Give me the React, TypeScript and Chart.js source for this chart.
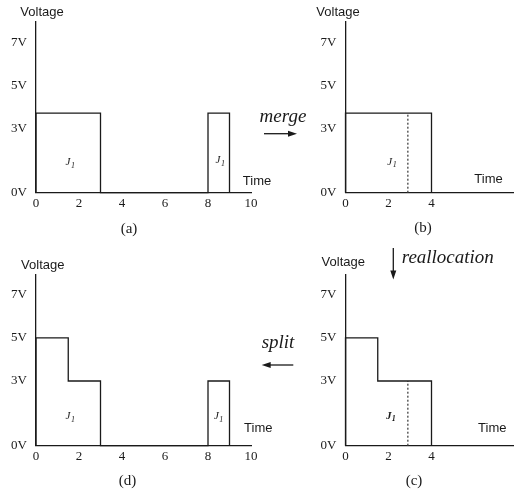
import React, { useEffect, useRef } from "react";
import { Chart, registerables } from "chart.js";
Chart.register(...registerables);

// ---------- data ----------
const voltTickValues = [0, 3, 5, 7];
const voltTickLabels = ["0V", "3V", "5V", "7V"];
const longTimeTicks = [0, 2, 4, 6, 8, 10];
const shortTimeTicks = [0, 2, 4];

// (a) before merge
const aStart = [0, 8];
const aEnd = [3, 9];
const aVolt = [3.7, 3.7];
// (b) merged
const bStart = [0];
const bEnd = [4];
const bVolt = [3.7];
const bDivide = 2.9;
// (c) after reallocation
const cStart = [0, 1.5];
const cEnd = [1.5, 4];
const cVolt = [5, 3];
const cDivide = 2.9;
// (d) after split
const dStart = [0, 1.5, 8];
const dEnd = [1.5, 3, 9];
const dVolt = [5, 3, 3];

const jobName = "J";
const jobSub = "1";

type Pt = { x: number; y: number };

function profile(starts: number[], ends: number[], volts: number[]): Pt[] {
  const pts: Pt[] = [];
  for (let i = 0; i < starts.length; i++) {
    const prevEnd = i > 0 ? ends[i - 1] : null;
    if (prevEnd !== starts[i]) pts.push({ x: starts[i], y: 0 });
    pts.push({ x: starts[i], y: volts[i] });
    pts.push({ x: ends[i], y: volts[i] });
    const nextStart = i < starts.length - 1 ? starts[i + 1] : null;
    if (nextStart !== ends[i]) pts.push({ x: ends[i], y: 0 });
  }
  return pts;
}

function levelAt(t: number, starts: number[], ends: number[], volts: number[]) {
  for (let i = 0; i < starts.length; i++) if (t >= starts[i] && t <= ends[i]) return volts[i];
  return 0;
}

const SERIF = '"Liberation Serif", "Times New Roman", serif';
const SANS = '"Liberation Sans", Arial, sans-serif';
const INK = "#1a1a1a";

type PanelCfg = {
  box: { left: number; top: number; width: number; height: number };
  area: { L: number; T: number; R: number; B: number };
  xMax: number;
  xTicks: number[];
  starts: number[];
  ends: number[];
  volts: number[];
  divide?: number;
  jobs: { x: number; y: number }[];
  boldJob?: boolean;
  voltage: { x: number; y: number };
  time: { x: number; y: number };
};

const panels: PanelCfg[] = [
  {
    box: { left: 0, top: 0, width: 300, height: 247 },
    area: { L: 36, T: 21.7, R: 251, B: 192.7 },
    xMax: 10,
    xTicks: longTimeTicks,
    starts: aStart, ends: aEnd, volts: aVolt,
    jobs: [{ x: 1.58, y: 1.4 }, { x: 8.56, y: 1.5 }],
    voltage: { x: 42, y: 12.5 },
    time: { x: 257, y: 181 },
  },
  {
    box: { left: 260, top: 0, width: 261, height: 247 },
    area: { L: 345.5, T: 21.7, R: 513.2, B: 192.7 },
    xMax: 7.8,
    xTicks: shortTimeTicks,
    starts: bStart, ends: bEnd, volts: bVolt,
    divide: bDivide,
    jobs: [{ x: 2.15, y: 1.44 }],
    voltage: { x: 338, y: 12.5 },
    time: { x: 488.5, y: 179 },
  },
  {
    box: { left: 260, top: 247, width: 261, height: 247 },
    area: { L: 345.5, T: 274.3, R: 513.2, B: 445.7 },
    xMax: 7.8,
    xTicks: shortTimeTicks,
    starts: cStart, ends: cEnd, volts: cVolt,
    divide: cDivide,
    jobs: [{ x: 2.1, y: 1.38 }],
    boldJob: true,
    voltage: { x: 343.3, y: 262 },
    time: { x: 492.3, y: 428.3 },
  },
  {
    box: { left: 0, top: 247, width: 300, height: 247 },
    area: { L: 36, T: 274.3, R: 251, B: 445.7 },
    xMax: 10,
    xTicks: longTimeTicks,
    starts: dStart, ends: dEnd, volts: dVolt,
    jobs: [{ x: 1.58, y: 1.35 }, { x: 8.48, y: 1.35 }],
    voltage: { x: 42.8, y: 265.7 },
    time: { x: 258.3, y: 428.3 },
  },
];

const annotPlugin = {
  id: "annot",
  afterDraw(chart: any) {
    const cfg: PanelCfg = chart.options.plugins.annot.cfg;
    const ctx = chart.ctx;
    const ox = cfg.box.left;
    const oy = cfg.box.top;
    ctx.save();
    ctx.fillStyle = INK;
    ctx.textAlign = "center";
    ctx.textBaseline = "middle";
    ctx.font = `13px ${SANS}`;
    ctx.fillText("Voltage", cfg.voltage.x - ox, cfg.voltage.y - oy);
    ctx.fillText("Time", cfg.time.x - ox, cfg.time.y - oy);
    const xs = chart.scales.x;
    const ys = chart.scales.y;
    const w = cfg.boldJob ? "bold " : "";
    for (const j of cfg.jobs) {
      const px = xs.getPixelForValue(j.x);
      const py = ys.getPixelForValue(j.y);
      ctx.font = `italic ${w}11px ${SERIF}`;
      ctx.fillText(jobName, px - 2, py);
      ctx.font = `italic ${w}8px ${SERIF}`;
      ctx.fillText(jobSub, px + 3, py + 3);
    }
    ctx.restore();
  },
};

function Panel({ cfg }: { cfg: PanelCfg }) {
  const ref = useRef<HTMLCanvasElement | null>(null);
  useEffect(() => {
    if (!ref.current) return;
    const datasets: any[] = [
      {
        data: profile(cfg.starts, cfg.ends, cfg.volts),
        borderColor: INK,
        borderWidth: 1.3,
        pointRadius: 0,
        fill: false,
        tension: 0,
        clip: false,
      },
    ];
    if (cfg.divide !== undefined) {
      datasets.push({
        data: [
          { x: cfg.divide, y: 0 },
          { x: cfg.divide, y: levelAt(cfg.divide, cfg.starts, cfg.ends, cfg.volts) },
        ],
        borderColor: "#444",
        borderWidth: 1.3,
        borderDash: [2, 2],
        pointRadius: 0,
        fill: false,
        clip: false,
      });
    }
    const { box, area } = cfg;
    const chart = new Chart(ref.current, {
      type: "line",
      data: { datasets },
      plugins: [annotPlugin],
      options: {
        animation: false,
        responsive: false,
        maintainAspectRatio: false,
        events: [],
        layout: {
          padding: {
            left: 0,
            top: area.T - box.top,
            right: box.left + box.width - area.R,
            bottom: 0,
          },
        },
        plugins: {
          legend: { display: false },
          tooltip: { enabled: false },
          annot: { cfg },
        } as any,
        scales: {
          x: {
            type: "linear",
            min: 0,
            max: cfg.xMax,
            grid: { display: false, drawTicks: false },
            border: { display: true, color: INK, width: 1.3 },
            afterBuildTicks: (s: any) => {
              s.ticks = cfg.xTicks.map((v) => ({ value: v }));
            },
            afterFit: (s: any) => {
              s.height = box.top + box.height - area.B;
            },
            ticks: {
              padding: 3,
              color: INK,
              autoSkip: false,
              maxRotation: 0,
              font: { family: SERIF, size: 13 },
              callback: (v: any) => String(v),
            },
          },
          y: {
            type: "linear",
            min: 0,
            max: 7.95,
            grid: { display: false, drawTicks: false },
            border: { display: true, color: INK, width: 1.3 },
            afterBuildTicks: (s: any) => {
              s.ticks = voltTickValues.map((v) => ({ value: v }));
            },
            afterFit: (s: any) => {
              s.width = area.L - box.left;
            },
            ticks: {
              padding: 9,
              color: INK,
              autoSkip: false,
              font: { family: SERIF, size: 13 },
              callback: (v: any) => {
                const i = voltTickValues.indexOf(Number(v));
                return i >= 0 ? voltTickLabels[i] : "";
              },
            },
          },
        },
      } as any,
    });
    return () => chart.destroy();
  }, [cfg]);
  return (
    <canvas
      ref={ref}
      width={cfg.box.width}
      height={cfg.box.height}
      style={{
        position: "absolute",
        left: cfg.box.left,
        top: cfg.box.top,
        width: cfg.box.width,
        height: cfg.box.height,
      }}
    />
  );
}

const captions = [
  { text: "(a)", x: 129, y: 233 },
  { text: "(b)", x: 423, y: 231.5 },
  { text: "(d)", x: 127.5, y: 485 },
  { text: "(c)", x: 414, y: 485 },
];

export default function App() {
  return (
    <div
      style={{
        position: "absolute",
        left: 0,
        top: 0,
        width: 521,
        height: 494,
        background: "#fff",
        overflow: "hidden",
      }}
    >
      {panels.map((p, i) => (
        <Panel key={i} cfg={p} />
      ))}
      <svg
        width={521}
        height={494}
        style={{ position: "absolute", left: 0, top: 0, pointerEvents: "none" }}
      >
        {captions.map((c) => (
          <text
            key={c.text}
            x={c.x}
            y={c.y}
            textAnchor="middle"
            fontFamily={SERIF}
            fontSize={15}
            fill={INK}
          >
            {c.text}
          </text>
        ))}
        <text x={283} y={121.5} textAnchor="middle" fontFamily={SERIF} fontStyle="italic" fontSize={19} fill={INK}>
          merge
        </text>
        <line x1={264} y1={133.7} x2={290} y2={133.7} stroke={INK} strokeWidth={1.3} />
        <polygon points="297,133.7 288,130.7 288,136.7" fill={INK} />

        <text x={401.7} y={262.5} fontFamily={SERIF} fontStyle="italic" fontSize={19} fill={INK}>
          reallocation
        </text>
        <line x1={393.3} y1={248} x2={393.3} y2={272} stroke={INK} strokeWidth={1.3} />
        <polygon points="393.3,279.5 390.3,270.5 396.3,270.5" fill={INK} />

        <text x={278} y={348.3} textAnchor="middle" fontFamily={SERIF} fontStyle="italic" fontSize={19} fill={INK}>
          split
        </text>
        <line x1={268} y1={365} x2={293.3} y2={365} stroke={INK} strokeWidth={1.3} />
        <polygon points="261.7,365 270.7,362 270.7,368" fill={INK} />
      </svg>
    </div>
  );
}
